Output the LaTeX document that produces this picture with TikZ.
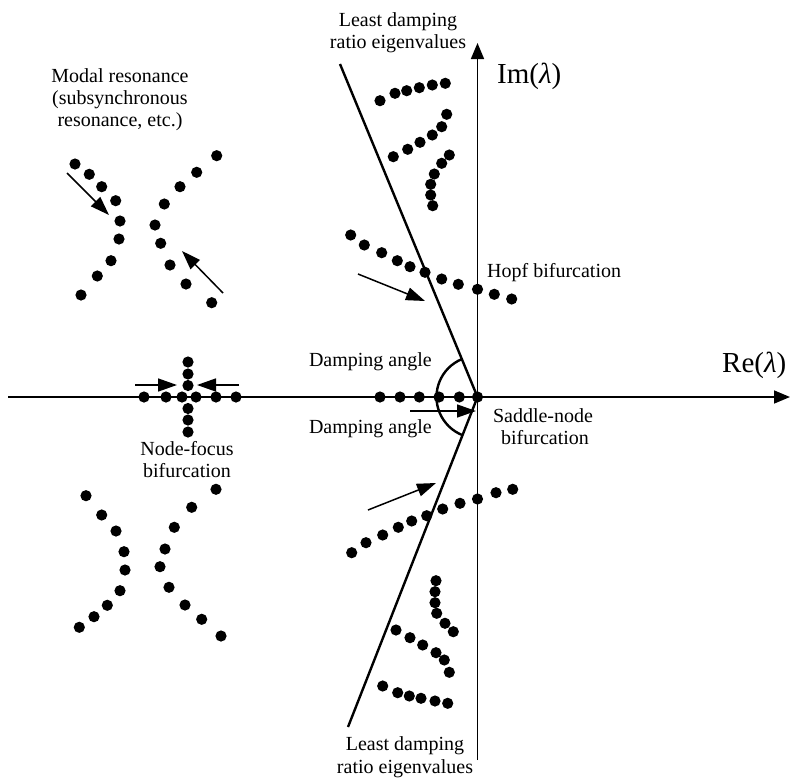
\documentclass[tikz,border=0pt]{standalone}
\usepackage{fontspec}
\setmainfont{Liberation Serif}
\usetikzlibrary{arrows.meta}
\begin{document}
\begin{tikzpicture}[x=1pt,y=-1pt,
  axisline/.style={line width=1.6pt,-{Triangle[length=16pt,width=13pt]}},
  dampline/.style={line width=2.4pt},
  pointer/.style={line width=1.5pt,-{Triangle[length=19pt,width=13pt]}},
  lbl/.style={font=\fontsize{20}{23}\selectfont,inner sep=0pt},
  axlbl/.style={font=\fontsize{29}{32}\selectfont,inner sep=0pt},
  eig/.style={fill=black}]
\useasboundingbox (0,0) rectangle (793,780);

% origin and axes
\coordinate (O) at (477.5,397);
\coordinate (reL) at (8,397);
\coordinate (reR) at (790,397);
\coordinate (imB) at (477.5,760);
\coordinate (imT) at (477.5,43);
\draw[axisline] (reL) -- (reR);
\draw[axisline] (imB) -- (imT);

% least damping ratio lines and damping-angle arc
\coordinate (dTop) at (340,64);
\coordinate (dBot) at (348,727);
\draw[dampline] (dTop) -- (O) -- (dBot);
\draw[dampline] (O) ++(112.4:41pt) arc[start angle=112.4,end angle=248.6,radius=41pt];

% eigenvalue loci
\foreach \p in {
  % upper right group
  (380,100.7),(395,93.3),(406.7,90.7),(419.3,87.7),(432.3,85),(445.3,83.3),
  (393.3,156.7),(407.7,149.3),(420,142.3),(432.3,135),(441.7,126.7),(446.7,114.3),
  (449.3,155),(441.7,163.3),(434.3,174),(430.7,184.3),(430.7,195),(432.7,205.7),
  % Hopf crossing (upper)
  (350.7,235),(364.3,245),(381.7,252.7),(397.3,260.7),(410,266.7),(425,272.3),
  (441.7,279),(458.3,284.3),(477.5,289.3),(494.3,294.3),(511.7,299),
  % real axis (saddle-node)
  (380,397),(400,397),(419.3,397),(439,397),(459.3,397),(477.5,397),
  % Hopf crossing (lower)
  (351.7,552.7),(366,542.7),(382.7,535),(398.3,527.3),(411.7,521),(426.7,515.7),
  (442.7,509),(460,503.3),(477.5,499),(496,492.7),(512.7,489.3),
  % lower right group
  (436,580.7),(435,591.7),(435,602.7),(436.7,613.3),(445,623.3),(453.3,631.7),
  (396,630),(410,637.7),(422.7,645),(436,652.7),(444.3,660),(449.3,672.3),
  (382.7,686),(397.7,692.7),(409.3,696),(421,698.3),(435,701),(447.7,703.3),
  % modal resonance (upper)
  (75,164),(89.3,174.3),(101.7,186.7),(115.7,200.7),(120,221),(119,239),(111,260.7),(97.3,276),(81,295),
  (216.7,155.7),(196.7,172.3),(180,186.7),(164.3,204),(155,225),(160.7,243.3),(170,265),(186,284),(211.7,302.7),
  % node-focus
  (144,397),(166,397),(182,397),(196,397),(216,397),(236,397),
  (188,362),(188,374),(188,385.5),(188,408.5),(188,420),(188,432),
  % modal resonance (lower)
  (86,495.7),(101.7,515),(116,531),(124,551.7),(125,570),(120,590.7),(107.3,605.3),(94,616.7),(79.3,627.3),
  (216,489.3),(191.7,507.3),(174.3,527.3),(165,549),(160,566.7),(169,587.3),(185,605),(201.7,619.3),(221,636)
}{\fill[eig] \p circle[radius=5.6pt];}

% pointers
\coordinate (hA) at (358,274);
\coordinate (hB) at (425,301);
\coordinate (lA) at (368,510);
\coordinate (lB) at (436,483);
\coordinate (sA) at (410,411);
\coordinate (sB) at (476,411);
\coordinate (mA) at (67,173);
\coordinate (mB) at (109,215);
\coordinate (mC) at (223,293);
\coordinate (mD) at (182,251);
\coordinate (nA) at (135,385);
\coordinate (nB) at (177,385);
\coordinate (nC) at (239,385);
\coordinate (nD) at (197,385);
\draw[pointer] (hA) -- (hB);
\draw[pointer] (lA) -- (lB);
\draw[pointer] (sA) -- (sB);
\draw[pointer] (mA) -- (mB);
\draw[pointer] (mC) -- (mD);
\draw[pointer] (nA) -- (nB);
\draw[pointer] (nC) -- (nD);

% labels
\node[axlbl,anchor=base west] (im) at (497,83) {Im(\textit{λ})};
\node[axlbl,anchor=base west] (re) at (722,372) {Re(\textit{λ})};
\node[lbl,anchor=base] (ldt1) at (398,26) {Least damping};
\node[lbl,anchor=base] (ldt2) at (398,48) {ratio eigenvalues};
\node[lbl,anchor=base] (ldb1) at (405,750) {Least damping};
\node[lbl,anchor=base] (ldb2) at (405,773) {ratio eigenvalues};
\node[lbl,anchor=base] (mr1) at (120,82) {Modal resonance};
\node[lbl,anchor=base] (mr2) at (120,104) {(subsynchronous};
\node[lbl,anchor=base] (mr3) at (120,126) {resonance, etc.)};
\node[lbl,anchor=base west] (hopf) at (487,277) {Hopf bifurcation};
\node[lbl,anchor=base east] (da1) at (432,366) {Damping angle};
\node[lbl,anchor=base east] (da2) at (432,433) {Damping angle};
\node[lbl,anchor=base] (sn1) at (543,422) {Saddle-node};
\node[lbl,anchor=base] (sn2) at (545,444) {bifurcation};
\node[lbl,anchor=base] (nf1) at (187,455) {Node-focus};
\node[lbl,anchor=base] (nf2) at (187,477) {bifurcation};
\end{tikzpicture}
\end{document}
